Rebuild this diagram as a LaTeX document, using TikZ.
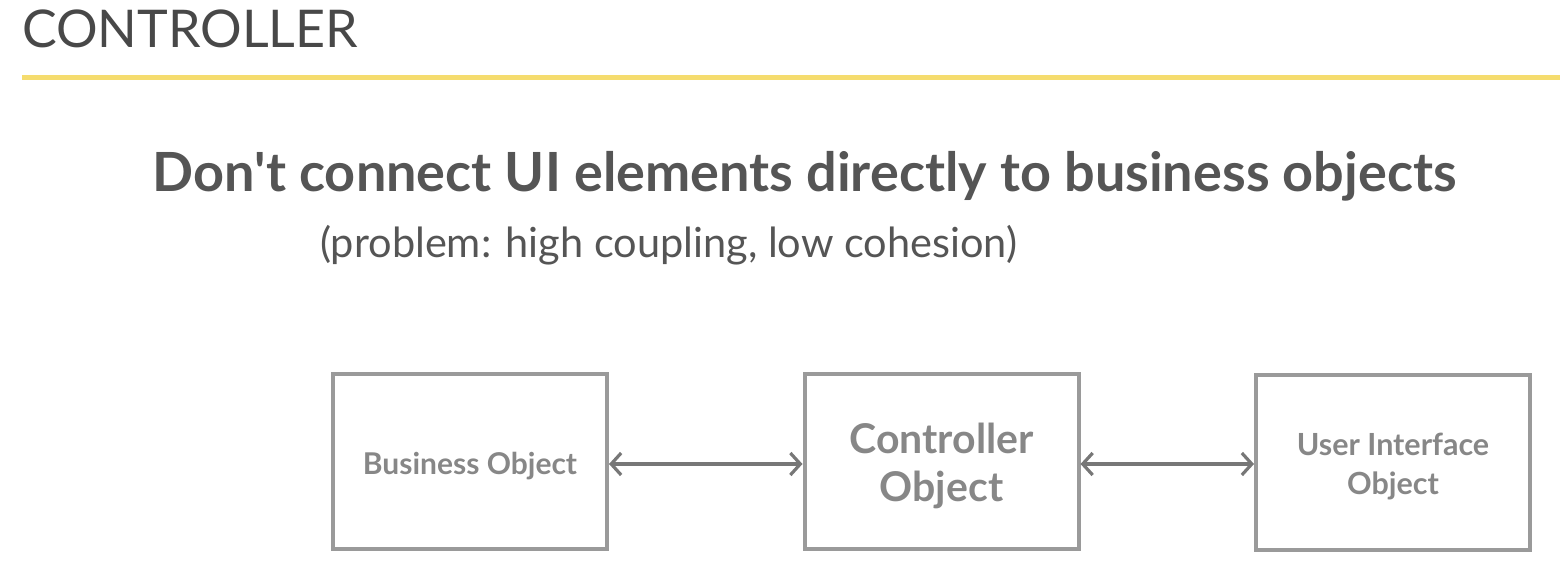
\documentclass[tikz,border=0pt]{standalone}
\usepackage{fontspec}
\setmainfont{Lato}
\usetikzlibrary{arrows.meta}
\definecolor{titlegray}{HTML}{484848}
\definecolor{headgray}{HTML}{555555}
\definecolor{boxgray}{HTML}{9A9A9A}
\definecolor{textgray}{HTML}{878787}
\definecolor{arrowgray}{HTML}{777777}
\definecolor{rule}{HTML}{F5DC6E}
\tikzset{
  objbox/.style={draw=boxgray, line width=4pt, minimum width=274pt, minimum height=175pt, inner sep=0pt},
  boxtext/.style={align=center, text=textgray, inner sep=0pt, yshift=-4.5pt},
  link/.style={draw=arrowgray, line width=3.2pt, {Straight Barb[length=10pt,width=22pt,line width=3.2pt]}-{Straight Barb[length=10pt,width=22pt,line width=3.2pt]}}
}
\begin{document}
\begin{tikzpicture}[x=1pt,y=-1pt]
\useasboundingbox (0,0) rectangle (1560,585);
\node[anchor=base west, inner sep=0pt, text=titlegray, font=\fontsize{52}{60}\selectfont] (title) at (22,48) {CONTROLLER};
\coordinate (r1) at (22,78);
\coordinate (r2) at (1560,78);
\draw[rule, line width=5pt] (r1) -- (r2);
\node[anchor=base, inner sep=0pt, text=headgray, font=\fontsize{54}{62}\bfseries\selectfont] (head) at (804.5,192) {Don\textquotesingle t connect UI elements directly to business objects};
\node[anchor=base west, inner sep=0pt, text=headgray, font=\fontsize{41.5}{48}\selectfont] (sub) at (320,258) {(problem: high coupling, low cohesion)};
\node[objbox, label={[boxtext, font=\fontsize{30}{36}\bfseries\selectfont]center:Business Object}] (bo) at (470,461.5) {};
\node[objbox, label={[boxtext, font=\fontsize{41}{48}\bfseries\selectfont]center:Controller\\Object}] (co) at (941.5,461.5) {};
\node[objbox, label={[boxtext, font=\fontsize{30.5}{39}\bfseries\selectfont]center:User Interface\\Object}] (ui) at (1393,462.5) {};
\draw[link] (bo.east |- 0,464) -- (co.west |- 0,464);
\draw[link] (co.east |- 0,464) -- (ui.west |- 0,464);
\end{tikzpicture}
\end{document}
